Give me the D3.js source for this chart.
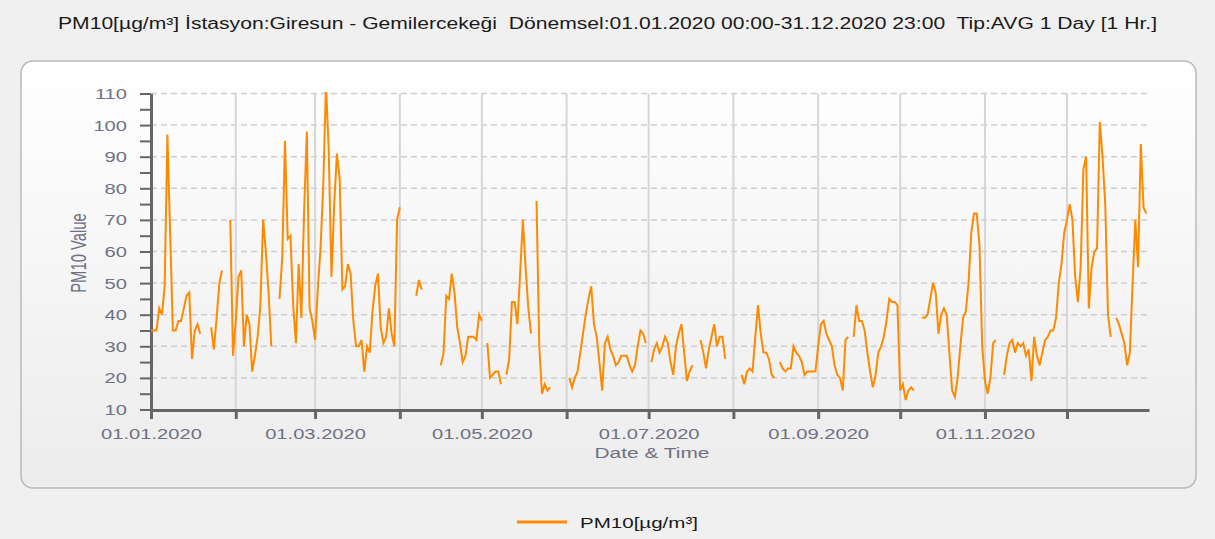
<!DOCTYPE html>
<html><head><meta charset="utf-8">
<script src="https://cdn.jsdelivr.net/npm/d3@7"></script>
<style>
html,body{margin:0;padding:0;background:#f0f0f0;}
svg{display:block;}
text{font-family:"Liberation Sans", Arial, sans-serif;}
</style></head><body>
<svg id="chart" width="1215" height="539"></svg>
<script>
const titleText = "PM10[µg/m³] İstasyon:Giresun - Gemilercekeği  Dönemsel:01.01.2020 00:00-31.12.2020 23:00  Tip:AVG 1 Day [1 Hr.]";
const seriesName = "PM10[µg/m³]";
const xAxisTitle = "Date & Time";
const yAxisTitle = "PM10 Value";
const year = 2020;

// daily values, one array per month (null = no data)
const jan = [35,35,35,42,40,49,97,66,35,35,38,38,42,46,47,26,35,37,34,null,null,null,36,29,39,50,54,null,null,70,27];
const feb = [38,52,54,30,40,37,22,27,33,43,70,60,47,30,null,null,45,58,95,64,65,43,31,56,39,73,98,42,38];
const mar = [32,48,61,81,113,92,52,75,91,83,48,49,56,53,38,30,30,32,22,30,28,41,49,53,36,31,33,42,34,30,70];
const apr = [74,null,null,null,null,null,46,51,48,null,null,null,null,null,null,24,28,46,45,53,47,36,31,25,27,33,33,33,32,40];
const may = [38,null,31,20,21,22,22,18,null,21,26,44,44,37,53,70,55,42,34,null,76,30,15,18,16,17,null,null,null,null,null];
const jun = [null,20,17,20,22,28,34,40,45,49,37,33,25,16,31,33,29,27,24,25,27,27,27,24,22,24,30,35,34,31];
const jul = [null,25,29,31,28,30,33,31,25,21,30,34,37,28,19,22,24,null,null,32,28,23,29,33,37,30,33,33,26,null,null];
const aug = [null,null,null,21,18,22,23,22,33,43,34,28,28,26,21,20,null,25,23,22,23,23,30,28,27,25,21,22,22,22,22];
const sep = [30,37,38,34,32,30,24,21,20,16,32,33,null,33,43,38,38,35,28,22,17,21,28,30,33,38,45,44,44,43];
const oct = [16,18,13,16,17,16,null,null,39,39,40,45,50,47,34,40,42,40,28,16,14,20,30,39,41,50,66,72,72,62,30];
const nov = [19,15,20,31,32,null,null,21,27,31,32,28,31,30,31,27,29,19,33,27,24,28,32,33,35,35,39,50,56,66];
const dec = [70,75,70,52,44,55,86,90,42,55,60,61,101,90,75,40,33,null,39,37,34,31,24,28,50,70,55,94,74,72,null];
const monthly = [jan,feb,mar,apr,may,jun,jul,aug,sep,oct,nov,dec];

const yTickValues = [10,15,20,25,30,35,40,45,50,55,60,65,70,75,80,85,90,95,100,105,110];
const yGridValues = [20,30,40,50,60,70,80,90,100,110];
const xLabelMonths = [0,2,4,6,8,10];

const data = [];
monthly.forEach((arr, m) => arr.forEach((v, i) => data.push({date: new Date(year, m, i + 1), v: v})));
const monthStarts = d3.range(0, 12).map(m => new Date(year, m, 1));

const svg = d3.select("#chart");
const SX = 1.3;
const labelColor = "#6f7183";
const lineColor = "#ff8a00";

const defs = svg.append("defs");
const grad = defs.append("linearGradient").attr("id", "panelGrad").attr("x1", 0).attr("y1", 0).attr("x2", 0).attr("y2", 1);
grad.append("stop").attr("offset", "0%").attr("stop-color", "#ffffff");
grad.append("stop").attr("offset", "100%").attr("stop-color", "#ececec");

svg.append("rect").attr("width", 1215).attr("height", 539).attr("fill", "#f0f0f0");

// title
svg.append("text").attr("x", 607.5).attr("y", 29).attr("text-anchor", "middle")
  .attr("font-size", 16).attr("fill", "#1a1a1a").style("white-space", "pre")
  .attr("textLength", 1099).attr("lengthAdjust", "spacingAndGlyphs").text(titleText);

// panel
svg.append("rect").attr("x", 21).attr("y", 61).attr("width", 1175).attr("height", 427)
  .attr("rx", 12).attr("ry", 12).attr("fill", "url(#panelGrad)")
  .attr("stroke", "#b9b9b9").attr("stroke-width", 1.5);

const x = d3.scaleTime().domain([new Date(year, 0, 1), new Date(year, 11, 31)]).range([151, 1149]);
const y = d3.scaleLinear().domain([10, 110]).range([409.5, 93.5]);

defs.append("clipPath").attr("id", "plotClip").append("rect")
  .attr("x", 151).attr("y", 92).attr("width", 1000).attr("height", 318);

// horizontal dashed grid
svg.append("g").selectAll("line").data(yGridValues).join("line")
  .attr("x1", 151).attr("x2", 1149).attr("y1", d => y(d)).attr("y2", d => y(d))
  .attr("stroke", "#cdcdcd").attr("stroke-width", 1.5).attr("stroke-dasharray", "6,4");

// vertical month grid
svg.append("g").selectAll("line").data(monthStarts.slice(1)).join("line")
  .attr("x1", d => x(d)).attr("x2", d => x(d)).attr("y1", y(110)).attr("y2", y(10))
  .attr("stroke", "#d6d6d6").attr("stroke-width", 2);

// y axis
const yAxis = svg.append("g").attr("transform", "translate(151,0)")
  .call(d3.axisLeft(y).tickValues(yTickValues).tickSize(11).tickSizeOuter(0)
    .tickFormat(d => d % 10 === 0 ? d : ""));
yAxis.select(".domain").attr("stroke", "#666").attr("stroke-width", 3);
yAxis.selectAll(".tick line").attr("stroke", "#666").attr("stroke-width", 2);
yAxis.selectAll(".tick text").attr("x", -24 / SX).attr("transform", `scale(${SX},1)`)
  .attr("font-size", 15.5).attr("fill", labelColor).attr("font-family", "Liberation Sans, Arial, sans-serif");

// x axis
const xAxis = svg.append("g").attr("transform", "translate(0,410)")
  .call(d3.axisBottom(x).tickValues(monthStarts).tickSize(9).tickSizeOuter(0).tickPadding(9)
    .tickFormat(d => xLabelMonths.includes(d.getMonth()) ? d3.timeFormat("%d.%m.%Y")(d) : ""));
xAxis.select(".domain").attr("stroke", "#666").attr("stroke-width", 3);
xAxis.selectAll(".tick line").attr("stroke", "#666").attr("stroke-width", 3);
xAxis.selectAll(".tick text").attr("transform", `scale(${SX},1)`)
  .attr("font-size", 15.5).attr("fill", labelColor).attr("font-family", "Liberation Sans, Arial, sans-serif");

// axis titles
svg.append("text").attr("x", 652).attr("y", 457.5).attr("text-anchor", "middle")
  .attr("font-size", 15.5).attr("fill", labelColor)
  .attr("textLength", 115).attr("lengthAdjust", "spacingAndGlyphs").text(xAxisTitle);
svg.append("text").attr("transform", "translate(78,253) scale(1.45,1) rotate(-90)")
  .attr("text-anchor", "middle").attr("dy", "0.35em")
  .attr("font-size", 14.8).attr("fill", labelColor).text(yAxisTitle);

// series line
const line = d3.line().defined(d => d.v !== null).x(d => x(d.date)).y(d => y(d.v));
svg.append("path").datum(data).attr("clip-path", "url(#plotClip)")
  .attr("fill", "none").attr("stroke", lineColor).attr("stroke-width", 2)
  .attr("stroke-linejoin", "miter").attr("d", line);

// legend
svg.append("line").attr("x1", 517).attr("x2", 567).attr("y1", 522).attr("y2", 522)
  .attr("stroke", lineColor).attr("stroke-width", 3);
svg.append("text").attr("x", 580).attr("y", 527.5).attr("font-size", 15.5).attr("fill", "#1a1a1a")
  .attr("textLength", 118).attr("lengthAdjust", "spacingAndGlyphs").text(seriesName);
</script>
</body></html>
